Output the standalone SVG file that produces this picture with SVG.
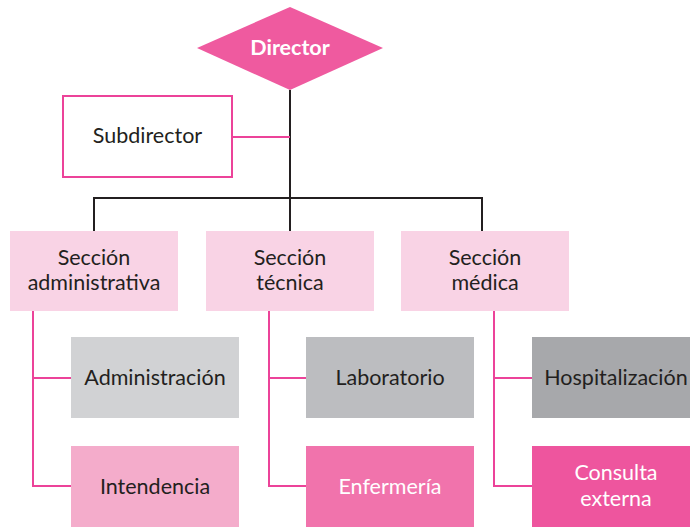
<svg xmlns="http://www.w3.org/2000/svg" width="690" height="527" viewBox="0 0 690 527">
<style>
text{font-family:Lato,"Open Sans",sans-serif;font-size:21.5px;text-anchor:middle;fill:#231f20}
.w{fill:#ffffff}
.k{fill:none;stroke:#231f20;stroke-width:2}
.p{fill:none;stroke:#ec4399;stroke-width:2}
</style>
<rect width="690" height="527" fill="#ffffff"/>
<g id="connectors">
<path class="k" d="M290 90V198M94 231V198H482V231M290 198V231"/>
<path class="p" d="M232 137H290"/>
<path class="p" d="M33 311V486H71M33 378H71"/>
<path class="p" d="M269 311V486H306M269 378H306"/>
<path class="p" d="M494 311V486H532M494 378H532"/>
</g>
<g id="director">
<polygon points="290,7 383,48 290,90 197,48" fill="#ef5a9f"/>
<text x="290" y="55" class="w" style="font-weight:bold">Director</text>
</g>
<g id="subdirector">
<rect x="63" y="96" width="169" height="81" fill="#ffffff" stroke="#ec4399" stroke-width="2"/>
<text x="147.5" y="143">Subdirector</text>
</g>
<g id="sec-admin">
<rect x="10" y="231" width="168" height="80" fill="#f9d3e5"/>
<text x="94" y="265">Sección</text>
<text x="94" y="290">administrativa</text>
</g>
<g id="sec-tec">
<rect x="206" y="231" width="168" height="80" fill="#f9d3e5"/>
<text x="290" y="265">Sección</text>
<text x="290" y="290">técnica</text>
</g>
<g id="sec-med">
<rect x="401" y="231" width="168" height="80" fill="#f9d3e5"/>
<text x="485" y="265">Sección</text>
<text x="485" y="290">médica</text>
</g>
<g id="administracion">
<rect x="71" y="337" width="168" height="81" fill="#d1d2d4"/>
<text x="155" y="385">Administración</text>
</g>
<g id="intendencia">
<rect x="71" y="446" width="168" height="81" fill="#f4accb"/>
<text x="155" y="494">Intendencia</text>
</g>
<g id="laboratorio">
<rect x="306" y="337" width="168" height="81" fill="#bcbdc0"/>
<text x="390" y="385">Laboratorio</text>
</g>
<g id="enfermeria">
<rect x="306" y="446" width="168" height="81" fill="#f173ac"/>
<text x="390" y="494" class="w">Enfermería</text>
</g>
<g id="hospitalizacion">
<rect x="532" y="337" width="158" height="81" fill="#a7a8ab"/>
<text x="616" y="385">Hospitalización</text>
</g>
<g id="consulta">
<rect x="532" y="446" width="158" height="81" fill="#ee559e"/>
<text x="616" y="480" class="w">Consulta</text>
<text x="616" y="506" class="w">externa</text>
</g>
</svg>
